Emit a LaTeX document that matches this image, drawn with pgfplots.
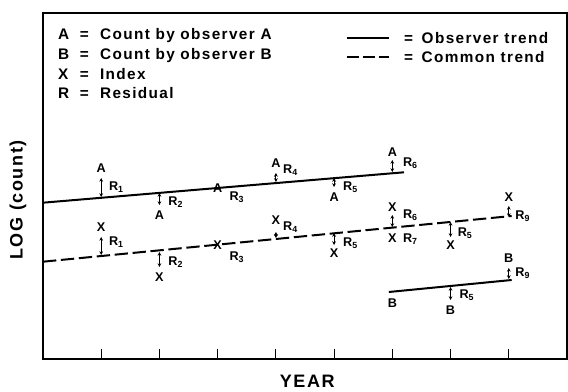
\documentclass[border=0pt]{standalone}
\usepackage{pgfplots}
\pgfplotsset{compat=1.18}
\usepackage{fontspec}
\setmainfont{Liberation Sans}
\newfontfamily\lsfont{Liberation Sans}[LetterSpace=9]
\usetikzlibrary{arrows.meta}
\tikzset{
  leg/.style={anchor=base west, inner sep=0pt, font=\lsfont\bfseries\fontsize{11.5}{13}\selectfont},
}
\newcommand\ptfont{\bfseries\fontsize{9.5}{11}\selectfont}
\begin{document}
\begin{tikzpicture}
\useasboundingbox (-32.25pt,-24.75pt) rectangle (393.75pt,269.25pt);
\begin{axis}[
  at={(0,0)}, anchor=south west,
  scale only axis, width=393pt, height=259.5pt,
  xmin=0, xmax=9, ymin=0, ymax=346,
  xtick={1,...,8}, xticklabels={}, xtick pos=bottom,
  tick align=inside, major tick length=7.5pt,
  ytick=\empty,
  axis line style={line width=0.9pt},
  every tick/.style={black, line width=0.9pt},
  clip=false,
]
% trend lines
\addplot[black, line width=1.5pt, no marks] coordinates {(0,156.3) (6.2,186.7)};
\addplot[black, line width=1.5pt, no marks, dash pattern=on 10pt off 3.5pt] coordinates {(0,97.3) (8.05,143)};
\addplot[black, line width=1.5pt, no marks] coordinates {(5.94,67) (8.05,79)};
% observed points
\addplot[black, only marks, mark=text, text mark={\ptfont A}, text mark as node=true] coordinates {(1,191) (2,144) (3,171) (4,196) (5,162) (6,207)};
\addplot[black, only marks, mark=text, text mark={\ptfont X}, text mark as node=true] coordinates {(1,132) (2,82) (3,114) (4,139) (5,106) (6,152) (6,121) (7,114) (8,162)};
\addplot[black, only marks, mark=text, text mark={\ptfont B}, text mark as node=true] coordinates {(6,56) (7,49) (8,101)};
% residual arrows
\addplot[black, line width=0.65pt, <->, >={Stealth[length=2.8pt,width=2.8pt]}, quiver={u=0, v=\thisrow{v}}, mark=none] table {
x y v
1 162 19
2 166 -12
4 177 9
5 181 -9
6 187 12
1 104 18
2 107 -15
4 121 6
5 126 -12
6 132 12
7 137 -15
8 142 11
7 72 -13
8 80 11
};
% residual labels
\addplot[only marks, mark=none, nodes near coords={R\textsubscript{\pgfplotspointmeta}}, point meta=explicit symbolic,
  every node near coord/.append style={anchor=west, inner sep=0pt, black, font=\ptfont}] table[meta=r] {
x y r
1.13 172 1
2.15 157 2
3.2 162 3
4.12 189 4
5.15 172 5
6.18 196 6
1.13 117 1
2.15 97 2
3.2 102 3
4.12 132 4
5.15 116 5
6.18 144 6
6.18 120 7
7.12 126 5
8.11 143 9
7.15 64 5
8.11 86 9
};
% key, left
\node[leg] at (axis cs:0.257,319.5) {A};
\node[leg] at (axis cs:0.257,299) {B};
\node[leg] at (axis cs:0.257,279) {X};
\node[leg] at (axis cs:0.257,260) {R};
\node[leg] at (axis cs:0.63,319.5) {=};
\node[leg] at (axis cs:0.63,299) {=};
\node[leg] at (axis cs:0.63,279) {=};
\node[leg] at (axis cs:0.63,260) {=};
\node[leg] at (axis cs:0.976,319.5) {Count by observer A};
\node[leg] at (axis cs:0.976,299) {Count by observer B};
\node[leg] at (axis cs:0.976,279) {Index};
\node[leg] at (axis cs:0.976,260) {Residual};
% key, right
\draw[line width=1.5pt] (axis cs:5.22,321) -- (axis cs:5.94,321);
\draw[line width=1.5pt, dash pattern=on 9pt off 3pt] (axis cs:5.22,302) -- (axis cs:5.94,302);
\node[leg] at (axis cs:6.2,315) {=};
\node[leg] at (axis cs:6.2,296) {=};
\node[leg] at (axis cs:6.5,315) {Observer trend};
\node[leg] at (axis cs:6.5,296) {Common trend};
% axis titles
\node[rotate=90, font=\lsfont\bfseries\fontsize{13.5}{16}\selectfont] at (axis cs:-0.43,159) {LOG (count)};
\node[font=\lsfont\bfseries\fontsize{13.5}{16}\selectfont] at (axis cs:4.54,-22.5) {YEAR};
\end{axis}
\end{tikzpicture}
\end{document}
